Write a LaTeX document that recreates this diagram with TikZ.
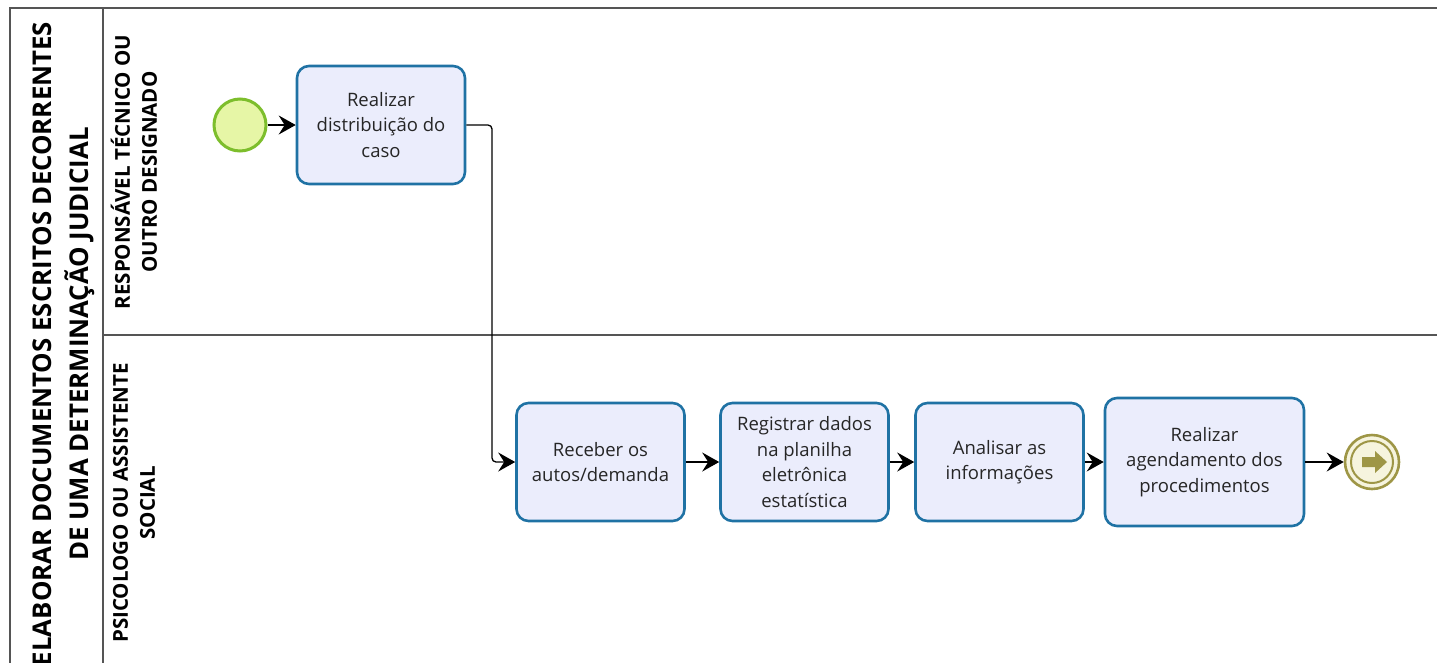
\documentclass[tikz,border=0pt]{standalone}
\usepackage{fontspec}
\setmainfont{Open Sans}
\usetikzlibrary{arrows.meta}
\definecolor{taskblue}{HTML}{1F72A4}
\definecolor{taskfill}{HTML}{EBEDFC}
\definecolor{startgreen}{HTML}{7DBE2C}
\definecolor{startfill}{HTML}{E6F6A6}
\definecolor{endolive}{HTML}{9E9646}
\definecolor{endfill}{HTML}{F6F4DE}
\definecolor{textgray}{HTML}{262626}
\definecolor{poolgray}{HTML}{555555}
\begin{document}
\begin{tikzpicture}[x=1pt,y=-1pt,
  task/.style={draw=taskblue, line width=2.6pt, fill=taskfill, rounded corners=12pt,
    minimum width=168pt, minimum height=118pt, align=center, text=textgray,
    font=\fontsize{18.5}{25.5}\selectfont, inner sep=1pt},
  flow/.style={draw=black, line width=1.3pt, rounded corners=4pt,
    -{Stealth[length=17pt,width=19pt,inset=6pt]}},
  poolline/.style={draw=poolgray, line width=1.4pt},
  lanelabel/.style={rotate=90, align=center, font=\bfseries\fontsize{20.5}{27}\selectfont, text=black},
  poollabel/.style={rotate=90, align=center, font=\bfseries\fontsize{25.8}{37}\selectfont, text=black}]
\useasboundingbox (0,0) rectangle (1437,662);
\begin{scope}
\clip (0,0) rectangle (1437,662);
% pool frame
\draw[poolline] (10,700) -- (10,8) -- (1460,8);
\draw[poolline] (103,8) -- (103,700);
\draw[poolline] (103,335) -- (1460,335);
\node[poollabel] (pool) at (64,344) {ELABORAR DOCUMENTOS ESCRITOS DECORRENTES\\DE UMA DETERMINAÇÃO JUDICIAL};
\end{scope}
\node[lanelabel] (lane1) at (134,172) {RESPONSÁVEL TÉCNICO OU\\OUTRO DESIGNADO};
\node[lanelabel] (lane2) at (134,503) {PSICOLOGO OU ASSISTENTE\\SOCIAL};
% events
\node[circle, draw=startgreen, line width=3pt, fill=startfill, minimum size=52pt, inner sep=0pt] (start) at (240,125) {};
\node[circle, draw=endolive, line width=2.6pt, fill=endfill, minimum size=54pt, inner sep=0pt] (end) at (1372,462) {};
\draw[endolive, line width=2pt] (end.center) circle (21);
\fill[endolive] ([shift={(-10,-5)}]end.center) -- ([shift={(3,-5)}]end.center) -- ([shift={(3,-11)}]end.center)
  -- ([shift={(15,0)}]end.center) -- ([shift={(3,11)}]end.center) -- ([shift={(3,5)}]end.center)
  -- ([shift={(-10,5)}]end.center) -- cycle;
% tasks
\node[task] (t1) at (381,125) {Realizar\\distribuição do\\caso};
\node[task] (t2) at (600.5,462) {Receber os\\autos/demanda};
\node[task] (t3) at (804.5,462) {Registrar dados\\na planilha\\eletrônica\\estatística};
\node[task] (t4) at (999.5,462) {Analisar as\\informações};
\node[task, minimum width=199pt, minimum height=128pt] (t5) at (1204.5,462) {Realizar\\agendamento dos\\procedimentos};
% flows
\draw[flow] (start) -- (t1);
\coordinate (bend) at (492,125);
\draw[flow] (t1.east) -- (bend) -- (bend |- t2.west) -- (t2.west);
\draw[flow] (t2) -- (t3);
\draw[flow] (t3) -- (t4);
\draw[flow] (t4) -- (t5);
\draw[flow] (t5) -- (end);
\end{tikzpicture}
\end{document}
